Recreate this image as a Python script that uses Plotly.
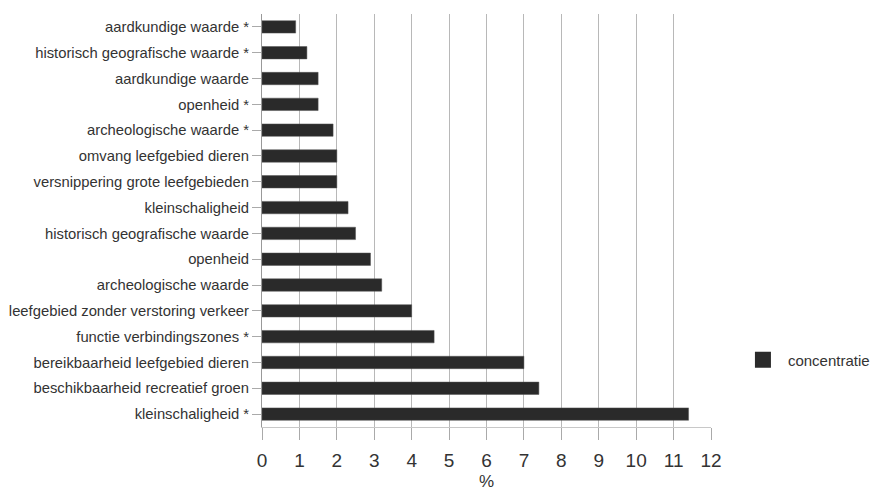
import plotly.graph_objects as go

categories = [
    "aardkundige waarde *",
    "historisch geografische waarde *",
    "aardkundige waarde",
    "openheid *",
    "archeologische waarde *",
    "omvang leefgebied dieren",
    "versnippering grote leefgebieden",
    "kleinschaligheid",
    "historisch geografische waarde",
    "openheid",
    "archeologische waarde",
    "leefgebied zonder verstoring verkeer",
    "functie verbindingszones *",
    "bereikbaarheid leefgebied dieren",
    "beschikbaarheid recreatief groen",
    "kleinschaligheid *",
]
values = [0.9, 1.2, 1.5, 1.5, 1.9, 2.0, 2.0, 2.3, 2.5, 2.9, 3.2, 4.0, 4.6, 7.0, 7.4, 11.4]
series_name = "concentratie"
x_ticks = list(range(0, 13))

bar_color = "#2a2a2a"

fig = go.Figure()
fig.add_trace(go.Bar(
    y=categories, x=values, orientation="h",
    marker=dict(color=bar_color, line=dict(color="#555555", width=0.5)),
    name=series_name, showlegend=False,
))
fig.add_trace(go.Scatter(
    x=[None], y=[None], mode="markers", name=series_name,
    marker=dict(symbol="square", size=20, color=bar_color),
    showlegend=True,
))

fig.update_layout(
    width=880, height=492,
    margin=dict(l=254, r=177, t=6, b=73),
    paper_bgcolor="white", plot_bgcolor="white",
    font=dict(family="Liberation Sans, Arial, sans-serif", color="#333333"),
    bargap=0.52,
    legend=dict(x=1.06, y=0.162, xanchor="left", yanchor="middle",
                font=dict(size=15, color="#333333"), itemsizing="trace",
                itemwidth=40, bgcolor="rgba(0,0,0,0)"),
    xaxis=dict(
        range=[0, 12], tickvals=x_ticks, ticktext=[str(t) for t in x_ticks],
        showgrid=True, gridcolor="#b8b8b8", gridwidth=1,
        zeroline=False, showline=True, linecolor="#c8c8c8", linewidth=1,
        ticks="outside", ticklen=12, tickcolor="#aaaaaa",
        ticklabelstandoff=4,
        tickfont=dict(size=19, color="#333333"),
        title=dict(text="%", font=dict(size=17, color="#333333"), standoff=5),
        automargin=False,
        fixedrange=True,
    ),
    yaxis=dict(
        categoryorder="array", categoryarray=categories,
        autorange="reversed",
        showline=True, linecolor="#999999", linewidth=1,
        ticks="outside", ticklen=9, tickcolor="#aaaaaa",
        tickfont=dict(size=14.8, color="#333333"),
        showgrid=False, fixedrange=True, automargin=False,
    ),
)

fig.write_html("out.html")
